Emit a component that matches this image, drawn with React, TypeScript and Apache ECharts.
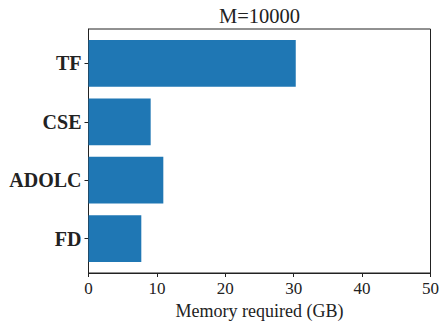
import React, { useEffect, useRef } from 'react';
import * as echarts from 'echarts';

const categories = ['FD', 'ADOLC', 'CSE', 'TF'];
const memoryGB = [7.72, 10.94, 9.09, 30.3];
const categoryIndex = [0, 1, 2, 3];
const titleText = 'M=10000';
const xAxisName = 'Memory required (GB)';

export default function App() {
  const ref = useRef<HTMLDivElement>(null);
  useEffect(() => {
    const chart = echarts.init(ref.current!, null, { renderer: 'svg' });
    const data = memoryGB.map((v, i) => [v, categoryIndex[i]]);
    const font = 'Liberation Serif';
    chart.setOption({
      animation: false,
      graphic: [
        {
          type: 'text',
          x: 259.5,
          y: 16,
          style: {
            text: titleText,
            font: `20.5px "${font}"`,
            fill: '#222',
            textAlign: 'center',
            textVerticalAlign: 'middle',
          },
        },
      ],
      grid: {
        left: 88.5,
        right: 15.5,
        top: 29,
        bottom: 54,
        show: true,
        borderColor: '#222',
        borderWidth: 1,
      },
      xAxis: {
        type: 'value',
        min: 0,
        max: 50,
        interval: 10,
        name: xAxisName,
        nameLocation: 'middle',
        nameGap: 29,
        nameTextStyle: { fontFamily: font, fontSize: 18, color: '#222' },
        axisLine: { show: true, onZero: false, lineStyle: { color: '#222', width: 1 } },
        axisTick: { show: true, length: 4, inside: false, lineStyle: { color: '#222' } },
        splitLine: { show: false },
        axisLabel: { fontFamily: font, fontSize: 17, color: '#222', margin: 7 },
      },
      yAxis: {
        type: 'value',
        min: -0.59,
        max: 3.59,
        splitLine: { show: false },
        axisLine: { show: true, onZero: false, lineStyle: { color: '#222', width: 1 } },
        axisTick: {
          show: true,
          length: 4,
          customValues: categoryIndex,
          lineStyle: { color: '#222' },
        },
        axisLabel: {
          customValues: categoryIndex,
          formatter: (v: number) => categories[Math.round(v)],
          fontFamily: font,
          fontWeight: 'bold',
          fontSize: 20,
          color: '#222',
          margin: 7,
        },
      },
      series: [
        {
          type: 'custom',
          encode: { x: 0, y: 1 },
          data,
          renderItem: (params: any, api: any) => {
            const start = api.coord([0, api.value(1)]);
            const end = api.coord([api.value(0), api.value(1)]);
            const h = api.size([0, 0.8])[1];
            return {
              type: 'rect',
              shape: { x: start[0], y: start[1] - h / 2, width: end[0] - start[0], height: h },
              style: { fill: '#1f77b4' },
            };
          },
        },
      ],
    });
    return () => chart.dispose();
  }, []);
  return <div ref={ref} style={{ width: 446, height: 327, position: 'absolute', left: 0, top: 0 }} />;
}
